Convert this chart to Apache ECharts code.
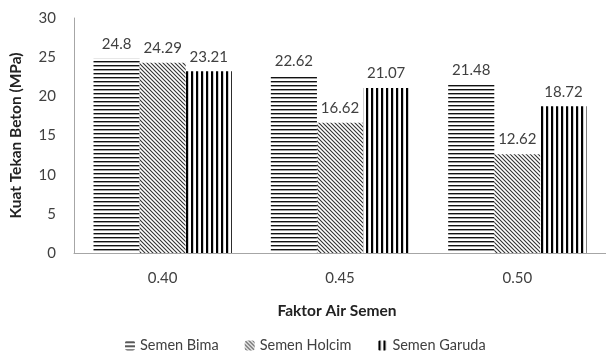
<!DOCTYPE html>
<html lang="id">
<head>
    <meta charset="UTF-8">
    <title>Kuat Tekan Beton</title>
    <style>
        html, body { margin: 0; padding: 0; background: #fff; }
    </style>
</head>
<body>
    <div id="chart" style="width: 606px;height:362px;"></div>
</body>
<script type="text/javascript" src="https://cdn.jsdelivr.net/npm/echarts@6/dist/echarts.min.js"></script>
<script type="text/javascript">
    // data
    var categories = ['0.40', '0.45', '0.50'];
    var seriesNames = ['Semen Bima', 'Semen Holcim', 'Semen Garuda'];
    var bima = [24.8, 22.62, 21.48];
    var holcim = [24.29, 16.62, 12.62];
    var garuda = [23.21, 21.07, 18.72];

    // hatch patterns
    function hatch(kind) {
        var c = document.createElement('canvas');
        var ctx = c.getContext('2d');
        if (kind === 'h') {
            c.width = 4; c.height = 4;
            ctx.fillStyle = '#fff'; ctx.fillRect(0, 0, 4, 4);
            ctx.fillStyle = '#111'; ctx.fillRect(0, 1, 4, 1.4);
        } else if (kind === 'v') {
            c.width = 5; c.height = 5;
            ctx.fillStyle = '#fff'; ctx.fillRect(0, 0, 5, 5);
            ctx.fillStyle = '#000'; ctx.fillRect(1, 0, 2.2, 5);
        } else {
            c.width = 4; c.height = 4;
            ctx.fillStyle = '#fff'; ctx.fillRect(0, 0, 4, 4);
            ctx.strokeStyle = '#333'; ctx.lineWidth = 1.1;
            ctx.beginPath();
            ctx.moveTo(-1, -1); ctx.lineTo(5, 5);
            ctx.moveTo(-1, 3); ctx.lineTo(1, 5);
            ctx.moveTo(3, -1); ctx.lineTo(5, 1);
            ctx.stroke();
        }
        return { image: c, repeat: 'repeat' };
    }

    var myChart = echarts.init(document.getElementById('chart'));
    var font = 'Lato, "Open Sans", sans-serif';

    function bar(name, data, kind) {
        return {
            name: name,
            type: 'bar',
            data: data,
            barGap: '0%',
            barCategoryGap: '22%',
            itemStyle: { color: hatch(kind) },
            label: {
                show: true,
                position: 'top',
                distance: 7,
                color: '#404040',
                fontSize: 15,
                fontFamily: font
            }
        };
    }

    var option = {
        animation: false,
        textStyle: { fontFamily: font },
        grid: { left: 73, top: 18, width: 540, bottom: 109, containLabel: false },
        legend: {
            bottom: 4,
            left: 120,
            itemWidth: 10,
            itemHeight: 10,
            itemGap: 26,
            textStyle: { color: '#404040', fontSize: 14.5, fontFamily: font },
            data: seriesNames
        },
        xAxis: {
            type: 'category',
            data: categories,
            name: 'Faktor Air Semen',
            nameLocation: 'middle',
            nameGap: 50,
            nameTextStyle: { color: '#222', fontWeight: 'bold', fontSize: 15.5, fontFamily: font, padding: [0, 0, 0, -6] },
            axisLine: { lineStyle: { color: '#a6a6a6', width: 1 } },
            axisTick: { show: false },
            axisLabel: { color: '#404040', fontSize: 15, margin: 18, fontFamily: font }
        },
        yAxis: {
            type: 'value',
            min: 0,
            max: 30,
            interval: 5,
            name: 'Kuat Tekan Beton (MPa)',
            nameLocation: 'middle',
            nameGap: 50,
            nameRotate: 90,
            nameTextStyle: { color: '#222', fontWeight: 'bold', fontSize: 15.5, fontFamily: font },
            axisLine: { show: true, lineStyle: { color: '#a6a6a6', width: 1 } },
            axisTick: { show: false },
            splitLine: { show: false },
            axisLabel: { color: '#404040', fontSize: 15, margin: 18, fontFamily: font }
        },
        series: [
            bar(seriesNames[0], bima, 'h'),
            bar(seriesNames[1], holcim, 'd'),
            bar(seriesNames[2], garuda, 'v')
        ]
    };

    myChart.setOption(option);
</script>
</html>
